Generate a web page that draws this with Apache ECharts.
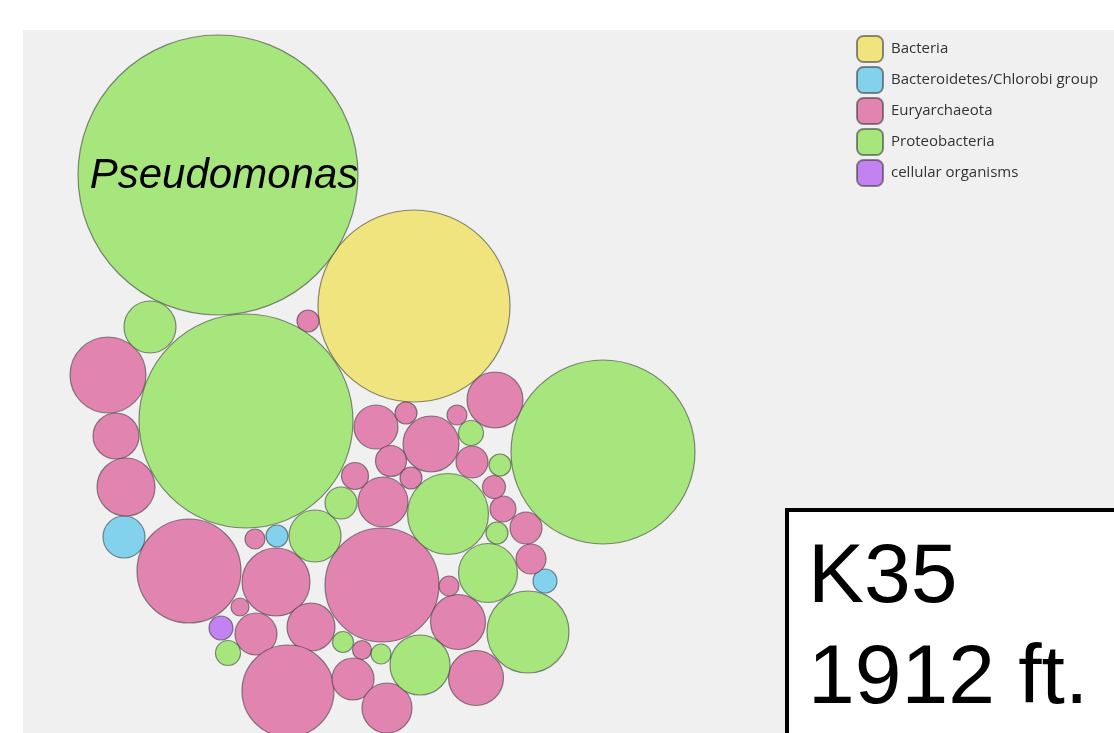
<!DOCTYPE html>
<html>
<head>
<meta charset="utf-8">
<script src="https://cdn.jsdelivr.net/npm/echarts@6/dist/echarts.min.js"></script>
<style>
  html, body { margin: 0; padding: 0; background: #fff; }
  #chart { width: 1114px; height: 733px; }
</style>
</head>
<body>
<div id="chart"></div>
<script>
// each bubble: [x, y, radius] in the layout's own units
const groups = ['Bacteria', 'Bacteroidetes/Chlorobi group', 'Euryarchaeota', 'Proteobacteria', 'cellular organisms']

const bacteria = [[414, 306, 96]]

const bacteroidetes = [[124, 537, 21], [277, 536, 11], [545, 581, 12]]

const euryarchaeota = [
  [308, 321, 11], [108, 375, 38], [116, 436, 23], [126, 487, 29],
  [189, 571, 52], [255, 539, 10], [276, 582, 34], [240, 607, 9],
  [256, 634, 21], [311, 627, 24], [288, 691, 46], [382, 585, 57],
  [362, 650, 9.5], [353, 679, 21], [387, 708, 25], [476, 678, 27.5],
  [458, 622, 27.5], [449, 586, 10], [531, 559, 15], [526, 528, 16],
  [503, 509, 13], [494, 487, 11.5], [495, 400, 28], [376, 427, 22],
  [406, 413, 11], [431, 444, 28], [457, 415, 10], [472, 462, 16],
  [391, 461, 15.5], [411, 478, 11], [355, 476, 13.5], [383, 502, 25]
]

const proteobacteria = [
  [218, 175, 140], [150, 327, 26], [246, 421, 107], [603, 452, 92],
  [315, 536, 26], [228, 653, 12.5], [343, 642, 10.5], [381, 654, 10],
  [420, 665, 30], [488, 573, 29.5], [528, 632, 41], [497, 533, 11],
  [471, 433, 12.5], [500, 465, 11], [341, 503, 16], [448, 514, 40.5]
]

const cellular = [[221, 628, 12]]

const labelName = 'Pseudomonas'   // shown on proteobacteria[0]

const colors = ['#f0e47e', '#82d2ee', '#e284b0', '#a6e67c', '#c382f2']
const seriesData = [bacteria, bacteroidetes, euryarchaeota, proteobacteria, cellular]

const chart = echarts.init(document.getElementById('chart'))

const series = groups.map((name, i) => ({
  name: name,
  type: 'scatter',
  symbol: 'circle',
  symbolSize: (val) => val[2] * 2,
  itemStyle: {
    color: colors[i],
    opacity: 1,
    borderColor: 'rgba(50,50,50,0.55)',
    borderWidth: 1.2
  },
  emphasis: { disabled: true },
  data: seriesData[i].map((d, j) => {
    if (name === 'Proteobacteria' && j === 0) {
      return {
        value: d,
        name: labelName,
        label: {
          show: true,
          position: 'inside',
          formatter: '{b}',
          offset: [6, 1],
          color: '#000',
          fontSize: 42,
          fontStyle: 'italic',
          fontFamily: 'Liberation Sans, Arial, sans-serif'
        }
      }
    }
    return d
  })
}))

const option = {
  animation: false,
  grid: {
    left: 23, top: 30, right: 0, bottom: 0,
    show: true,
    backgroundColor: '#f0f0f0',
    borderWidth: 0
  },
  xAxis: {
    type: 'value', min: 23, max: 1114,
    show: false
  },
  yAxis: {
    type: 'value', min: 30, max: 733, inverse: true,
    show: false
  },
  legend: {
    data: groups,
    orient: 'vertical',
    left: 856,
    top: 35,
    padding: 0,
    itemWidth: 26,
    itemHeight: 26,
    itemGap: 3,
    icon: 'roundRect',
    selectedMode: false,
    textStyle: {
      color: '#333',
      fontSize: 15,
      fontFamily: 'Open Sans, sans-serif',
      padding: [0, 0, 0, 3]
    }
  },
  graphic: [
    {
      type: 'rect',
      z: 100,
      shape: { x: 787, y: 510, width: 340, height: 240 },
      style: { fill: '#fff', stroke: '#000', lineWidth: 4 }
    },
    {
      type: 'text',
      z: 101,
      x: 808, y: 579,
      style: {
        text: 'K35',
        fill: '#000',
        font: '84px "Liberation Sans", Arial, sans-serif',
        verticalAlign: 'middle'
      }
    },
    {
      type: 'text',
      z: 101,
      x: 808, y: 680,
      style: {
        text: '1912 ft.',
        fill: '#000',
        font: '84px "Liberation Sans", Arial, sans-serif',
        verticalAlign: 'middle'
      }
    }
  ],
  series: series
}

chart.setOption(option)
window.addEventListener('resize', () => chart.resize())
</script>
</body>
</html>
